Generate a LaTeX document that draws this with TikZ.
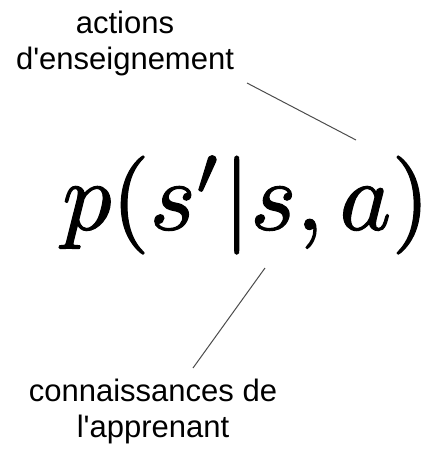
\documentclass[tikz,border=0pt]{standalone}
\usepackage{fontspec}
\setmainfont{Liberation Sans}

\tikzset{
  etiquette/.style={align=center, inner sep=0pt, font=\fontsize{31}{36}\selectfont},
  trait/.style={draw=black!70, line width=1pt}
}

\begin{document}
\begin{tikzpicture}[x=1pt, y=-1pt]
        % cadre
        \useasboundingbox (0,0) rectangle (432,451);

        % formule
        \node[inner sep=0pt, scale=9.8] (formule) at (246,205)
          {\special{pdf:literal direct 2 Tr 0.12 w}$p(s'|s,a)$\special{pdf:literal direct 0 Tr}};

        % étiquettes
        \node[etiquette] (actions) at (125,43) {actions\\d\textquotesingle enseignement};
        \node[etiquette] (connaissances) at (153,411) {connaissances de\\l\textquotesingle apprenant};

        % bouts des traits
        \coordinate (actions-pied) at (247,83);
        \coordinate (formule-haut) at (356,140);
        \coordinate (formule-bas) at (265,268);
        \coordinate (connaissances-tete) at (193,368);

        % traits
        \draw[trait] (actions-pied) -- (formule-haut);
        \draw[trait] (formule-bas) -- (connaissances-tete);
      \end{tikzpicture}
\end{document}
